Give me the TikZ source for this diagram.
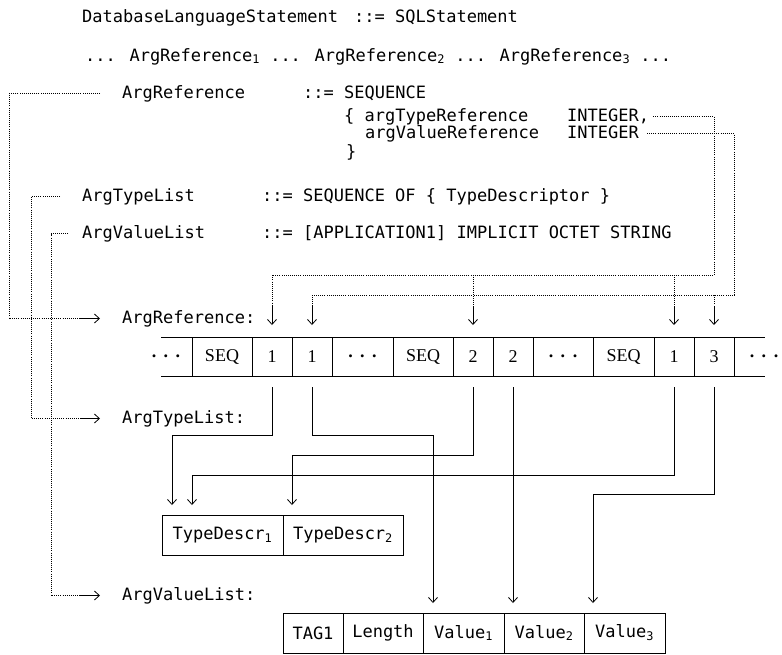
\documentclass[tikz,border=0pt]{standalone}
\usepackage{fontspec}
\setmainfont{Liberation Serif}
\newfontfamily\asnfont{DejaVu Sans Mono}
\usetikzlibrary{positioning,arrows.meta,calc}
\tikzset{
  asn/.style  = {font=\asnfont\fontsize{17}{20}\selectfont, inner sep=0pt, text height=12pt, text depth=3pt, anchor=base west},
  cell/.style = {draw, line width=0.8pt, minimum height=39pt, minimum width=40pt, inner sep=0pt, outer sep=0pt, font=\fontsize{18}{20}\selectfont},
  slot/.style = {draw, line width=0.8pt, minimum height=40pt, inner sep=0pt, outer sep=0pt, font=\asnfont\fontsize{17}{20}\selectfont},
  dotl/.style = {line width=0.7pt, dash pattern=on 0.7pt off 1.4pt},
  flow/.style = {-{Straight Barb[length=5pt,width=9pt]}, line width=0.8pt},
}
\newcommand{\tapedots}{\textbf{.}\hspace{7.5pt}\textbf{.}\hspace{7.5pt}\textbf{.}}

\begin{document}
\begin{tikzpicture}[x=1pt,y=-1pt]
  \useasboundingbox (0,0) rectangle (782,654);
  % grammar
  \node[asn] (stmt) at (82,22) {DatabaseLanguageStatement};
  \node[asn] (stmtdef) at (354,22) {::= SQLStatement};
  \node[asn] (uses) at (85,61) {... ArgReference\textsubscript{1} ... ArgReference\textsubscript{2} ... ArgReference\textsubscript{3} ...};
  \node[asn] (dRef) at (122,98) {ArgReference};
  \node[asn] (dRefdef) at (303,98) {::= SEQUENCE};
  \node[asn] (fType) at (344,121) {\{ argTypeReference};
  \node[asn] (intT) at (567,121) {INTEGER,};
  \node[asn] (fVal) at (365,138) {argValueReference};
  \node[asn] (intV) at (567,138) {INTEGER};
  \node[asn] (close) at (346,157) {\}};
  \node[asn] (dType) at (82,201) {ArgTypeList};
  \node[asn] (dTypedef) at (262,201) {::= SEQUENCE OF \{ TypeDescriptor \}};
  \node[asn] (dVal) at (82,238) {ArgValueList};
  \node[asn] (dValdef) at (262,238) {::= [APPLICATION1] IMPLICIT OCTET STRING};

  % lists
  \node[asn] (lRef) at (122,323) {ArgReference:};
  \node[asn] (lType) at (122,423) {ArgTypeList:};
  \node[asn] (lVal) at (122,600) {ArgValueList:};

  % the encoded tape
  \node[cell, draw=none, minimum width=52pt] (c1) at (166,356.5) {\tapedots};
  \node[cell, minimum width=60pt, right=0pt of c1] (c2) {SEQ};
  \node[cell, right=0pt of c2] (c3) {1};
  \node[cell, right=0pt of c3] (c4) {1};
  \node[cell, minimum width=61pt, right=0pt of c4] (c5) {\tapedots};
  \node[cell, minimum width=60pt, right=0pt of c5] (c6) {SEQ};
  \node[cell, right=0pt of c6] (c7) {2};
  \node[cell, right=0pt of c7] (c8) {2};
  \node[cell, minimum width=60pt, right=0pt of c8] (c9) {\tapedots};
  \node[cell, minimum width=61pt, right=0pt of c9] (c10) {SEQ};
  \node[cell, right=0pt of c10] (c11) {1};
  \node[cell, right=0pt of c11] (c12) {3};
  \node[cell, draw=none, minimum width=60pt, right=0pt of c12] (c13) {\tapedots};
  \draw[line width=0.8pt] ($(c2.north west)+(-31,0)$) -- ($(c12.north east)+(31,0)$);
  \draw[line width=0.8pt] ($(c2.south west)+(-31,0)$) -- ($(c12.south east)+(31,0)$);

  \node[slot, minimum width=121pt] (td1) at (222.5,535) {TypeDescr\textsubscript{1}};
  \node[slot, minimum width=120pt, right=0pt of td1] (td2) {TypeDescr\textsubscript{2}};

  \node[slot, minimum width=60pt] (tag) at (313,633) {TAG1};
  \node[slot, minimum width=80pt, right=0pt of tag] (len) {Length};
  \node[slot, minimum width=81pt, right=0pt of len] (val1) {Value\textsubscript{1}};
  \node[slot, minimum width=80pt, right=0pt of val1] (val2) {Value\textsubscript{2}};
  \node[slot, minimum width=81pt, right=0pt of val2] (val3) {Value\textsubscript{3}};

  % dotted references
  \coordinate (typeRail) at (0,275);
  \coordinate (valRail) at (0,295);
  \coordinate (dropEnd) at (0,306);
  \draw[dotl] ($(intT.east)+(4,0)$) -| (c12 |- typeRail) -| (c3 |- dropEnd);
  \draw[dotl] (c7 |- typeRail) -- (c7 |- dropEnd);
  \draw[dotl] (c11 |- typeRail) -- (c11 |- dropEnd);
  \draw[dotl] ($(intV.east)+(8,0)$) -| (c12.east |- valRail) -| (c4 |- dropEnd);
  \draw[dotl] (c12 |- valRail) -- (c12 |- dropEnd);
  \draw[flow] (c3 |- dropEnd) -- ($(c3.north)+(0,-12)$);
  \draw[flow] (c4 |- dropEnd) -- ($(c4.north)+(0,-12)$);
  \draw[flow] (c7 |- dropEnd) -- ($(c7.north)+(0,-12)$);
  \draw[flow] (c11 |- dropEnd) -- ($(c11.north)+(0,-12)$);
  \draw[flow] (c12 |- dropEnd) -- ($(c12.north)+(0,-12)$);

  \draw[dotl] ($(dRef.west)+(-22,0)$) -| (9,0 |- lRef.west) -- ($(lRef.west)+(-42,0)$);
  \draw[flow] ($(lRef.west)+(-42,0)$) -- ($(lRef.west)+(-22,0)$);
  \draw[dotl] ($(dType.west)+(-22,0)$) -| (31,0 |- lType.west) -- ($(lType.west)+(-42,0)$);
  \draw[flow] ($(lType.west)+(-42,0)$) -- ($(lType.west)+(-22,0)$);
  \draw[dotl] ($(dVal.west)+(-14,0)$) -| (51,0 |- lVal.west) -- ($(lVal.west)+(-42,0)$);
  \draw[flow] ($(lVal.west)+(-42,0)$) -- ($(lVal.west)+(-22,0)$);

  % from the tape into the lists
  \draw[flow] ($(c3.south)+(0,11)$) -- (c3 |- 0,435) -| ($(td1.north west)+(10,-10)$);
  \draw[flow] ($(c11.south)+(0,11)$) -- (c11 |- 0,475) -| ($(td1.north west)+(30,-10)$);
  \draw[flow] ($(c7.south)+(0,11)$) -- (c7 |- 0,455) -| ($(td2.north west)+(9,-10)$);
  \draw[flow] ($(c4.south)+(0,11)$) -- (c4 |- 0,435) -| ($(val1.north west)+(10,-10)$);
  \draw[flow] ($(c8.south)+(0,11)$) -- ($(c8 |- val2.north)+(0,-10)$);
  \draw[flow] ($(c12.south)+(0,11)$) -- (c12 |- 0,494) -| ($(val3.north west)+(9,-10)$);
\end{tikzpicture}
\end{document}
